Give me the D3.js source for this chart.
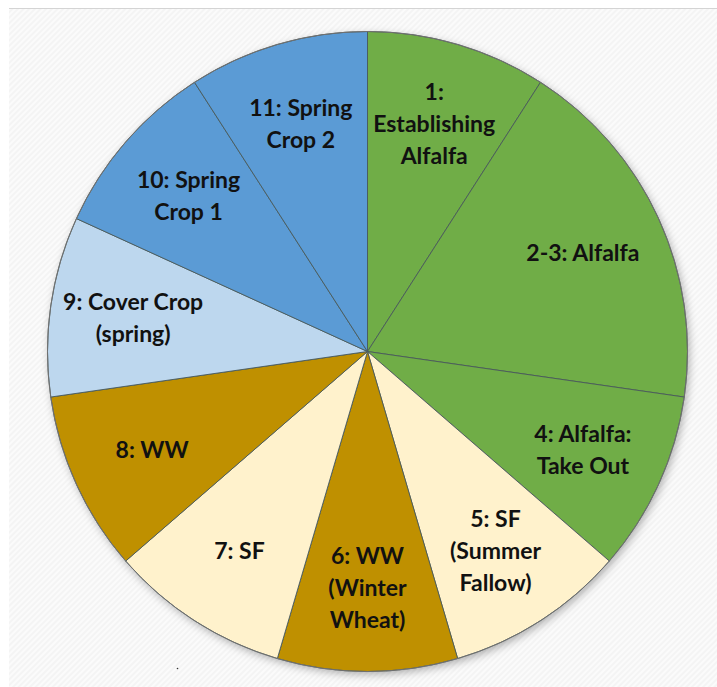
<!DOCTYPE html>
<html>
<head>
<meta charset="utf-8">
<script src="https://cdn.jsdelivr.net/npm/d3@7"></script>
<style>
    body { margin: 0; background: #fff; }
    svg { display: block; }
    text { font-family: "Lato", "Open Sans", sans-serif; font-weight: bold; fill: #111; }
</style>
</head>
<body>
<div id="chart"></div>
<script>
// rotation phases, one unit per year
var phases = ["1", "2-3", "4", "5", "6", "7", "8", "9", "10", "11"];
var years = [1, 2, 1, 1, 1, 1, 1, 1, 1, 1];
var labels = [
    ["1:", "Establishing", "Alfalfa"],
    ["2-3: Alfalfa"],
    ["4: Alfalfa:", "Take Out"],
    ["5: SF", "(Summer", "Fallow)"],
    ["6: WW", "(Winter", "Wheat)"],
    ["7: SF"],
    ["8: WW"],
    ["9: Cover Crop", "(spring)"],
    ["10: Spring", "Crop 1"],
    ["11: Spring", "Crop 2"]
];
var groups = ["alfalfa", "alfalfa", "alfalfa", "fallow", "wheat", "fallow", "wheat", "cover", "spring", "spring"];

function drawPie() {
    "use strict";
    var width = 717, height = 687;
    var cx = 367.5, cy = 351.5, radius = 320;

    var color = d3.scaleOrdinal()
        .domain(["alfalfa", "fallow", "wheat", "cover", "spring"])
        .range(["#70ad47", "#fff2cc", "#bf9000", "#bdd7ee", "#5b9bd5"]);

    var svg = d3.select("#chart").append("svg")
        .attr("width", width)
        .attr("height", height);

    var defs = svg.append("defs");
    var pat = defs.append("pattern")
        .attr("id", "hatch")
        .attr("width", 4)
        .attr("height", 4)
        .attr("patternUnits", "userSpaceOnUse")
        .attr("patternTransform", "rotate(45)");
    pat.append("rect").attr("width", 4).attr("height", 4).attr("fill", "#f4f4f4");
    pat.append("rect").attr("width", 2).attr("height", 4).attr("fill", "#fbfbfb");

    var filt = defs.append("filter")
        .attr("id", "shadow")
        .attr("x", "-10%").attr("y", "-10%")
        .attr("width", "120%").attr("height", "120%");
    filt.append("feDropShadow")
        .attr("dx", 2).attr("dy", 3)
        .attr("stdDeviation", 4)
        .attr("flood-color", "#000")
        .attr("flood-opacity", 0.3);

    // background panel
    svg.append("rect")
        .attr("x", 9).attr("y", 8)
        .attr("width", width - 9).attr("height", height - 8)
        .attr("fill", "url(#hatch)");
    svg.append("line")
        .attr("x1", 9).attr("x2", width)
        .attr("y1", 8.5).attr("y2", 8.5)
        .attr("stroke", "#d4d4d4");

    var g = svg.append("g")
        .attr("transform", "translate(" + cx + "," + cy + ")");

    var data = phases.map(function(p, i) {
        return { phase: p, years: years[i], group: groups[i], lines: labels[i] };
    });

    var pie = d3.pie().sort(null).value(function(d) { return d.years; });
    var arcs = pie(data);
    var arc = d3.arc().innerRadius(0).outerRadius(radius);
    var labelArc = d3.arc().innerRadius(radius * 0.74).outerRadius(radius * 0.74);

    // shadow under the whole pie
    g.append("circle")
        .attr("r", radius)
        .attr("fill", "#fff")
        .attr("filter", "url(#shadow)");

    g.selectAll("path")
        .data(arcs)
        .enter()
        .append("path")
        .attr("d", arc)
        .attr("fill", function(d) { return color(d.data.group); })
        .attr("stroke", "#4a5a5a")
        .attr("stroke-width", 0.9);

    g.append("circle")
        .attr("r", radius)
        .attr("fill", "none")
        .attr("stroke", "#707070")
        .attr("stroke-width", 1);

    var lineH = 32;
    var txt = g.selectAll("text.lbl")
        .data(arcs)
        .enter()
        .append("text")
        .attr("class", "lbl")
        .attr("text-anchor", "middle")
        .attr("font-size", 23)
        .attr("transform", function(d) {
            var c = labelArc.centroid(d);
            return "translate(" + c[0] + "," + c[1] + ")";
        });
    txt.each(function(d) {
        var n = d.data.lines.length;
        d3.select(this).selectAll("tspan")
            .data(d.data.lines)
            .enter()
            .append("tspan")
            .attr("x", 0)
            .attr("y", function(l, i) { return (i - (n - 1) / 2) * lineH + 8; })
            .text(function(l) { return l; });
    });

    // stray dot in the original
    svg.append("circle")
        .attr("cx", 177.5).attr("cy", 668.5)
        .attr("r", 0.8)
        .attr("fill", "#333");
}

drawPie();
</script>
</body>
</html>
